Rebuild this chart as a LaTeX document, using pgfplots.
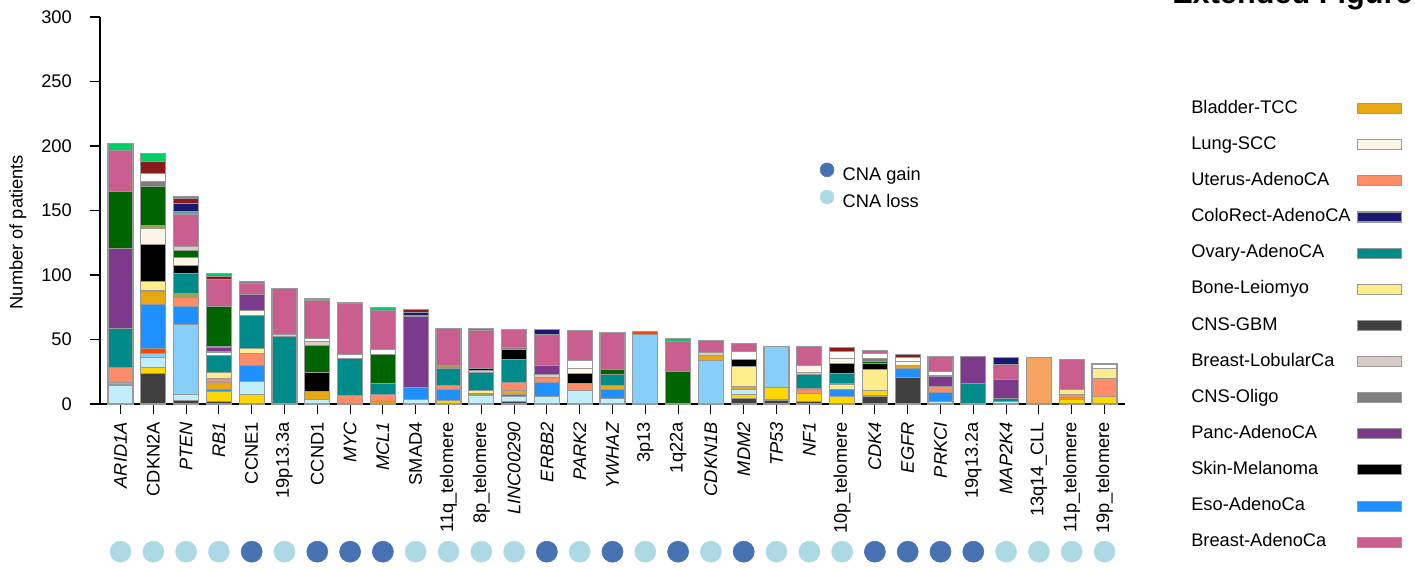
\documentclass[border=0pt]{standalone}
\usepackage{fontspec}
\setmainfont{Liberation Sans}
\usepackage{pgfplots}
\usepackage{pgfplotstable}
\pgfplotsset{compat=1.18}

\definecolor{cGBM}{HTML}{404040}
\definecolor{cGold}{HTML}{FFD700}
\definecolor{cCyan}{HTML}{C2EEFC}
\definecolor{cOligo}{HTML}{7F7F7F}
\definecolor{cSky}{HTML}{87CEFA}
\definecolor{cRed}{HTML}{FF4500}
\definecolor{cEso}{HTML}{1E90FF}
\definecolor{cBladder}{HTML}{E8A812}
\definecolor{cUterus}{HTML}{FF8C69}
\definecolor{cOlive}{HTML}{A0A052}
\definecolor{cBone}{HTML}{FFEC8B}
\definecolor{cOvary}{HTML}{008B8B}
\definecolor{cLobular}{HTML}{DBCBCB}
\definecolor{cSkin}{HTML}{000000}
\definecolor{cLung}{HTML}{FDF5E6}
\definecolor{cPanc}{HTML}{7D3A8C}
\definecolor{cDkGreen}{HTML}{006400}
\definecolor{cBreast}{HTML}{CA5E8E}
\definecolor{cCadet}{HTML}{5F9EA0}
\definecolor{cColo}{HTML}{191970}
\definecolor{cDkRed}{HTML}{8B1A1A}
\definecolor{cBrGreen}{HTML}{00CD66}
\definecolor{cSandy}{HTML}{F4A460}
\definecolor{cGain}{HTML}{4672B4}
\definecolor{cLoss}{HTML}{ADD8E6}

\newcommand{\fs}{\fontsize{13.7}{15.5}\selectfont}

% one column per stacking layer, bottom to top
\pgfplotstableread{
x  G    Y   C    A1  S    R  E    B    U    O1  L    T    Q1  K    M   O2  W1 P    D    A3  Q2  W2  H    A4  T2  N   X   Z   F
0  0    0   14   1.3 0    0  0    1.5  11.6 0   0    30   0   0    0   0   0  62   44   0   0   0   32   0   0   0   0   5.7 0
1  23.7 4.6 7.7  0   3    4  34   10.6 0    0   7.2  0    0   29   12  2.8 0  0    29.7 4.4 0   5.7 0    0   0   0   9.8 5.7 0
2  2.4  0   5    0   54   0  14.4 0    7    2.6 0    15.5 0   6.7  6.2 0   0  0    5.2  0   3   0   25.3 0   1.8 6   3.9 2   0
3  1.8  7.7 0    0   0    0  2    5.2  3    0   4.6  13   0   0    0   0   3  3.9  31.7 0   0   0   20.6 0   0   0   2.6 2.3 0
4  0    7.5 10.3 0   0    0  11.9 0    9.5  0   3.9  25.3 0   0    3.9 0   0  12.6 0    0   0   0   8.5  1.3 0   0   0   0   0
5  0    0   0    0   0    0  0    0    0    0   0    52   0   0    0   0   0  0    0    0   2   0   35.3 0   0   0   0   0   0
6  0    0   3.6  0   0    0  0    6    0    0   0    0    0   14.7 0   0   0  0    21   0   3   2.6 29.7 1.3 0   0   0   0   0
7  0    0   0    0   0    0  0    0    6.5  0   0    29   0   0    0   0   0  0    0    0   0   3   39.5 0.5 0   0   0   0   0
8  0    0   0    0   0    0  0    1.8  5.7  0   0    8.5  0   0    0   0   0  0    22.5 0   0   4.1 30.2 0   0   0   0   2   0
9  0    0   3.6  0   0    0  9.3  0    0    0   0    0    0   0    0   0   0  54.7 0    0   0   0   0    1   0   2.3 2.6 0   0
10 0    2.6 0    0   0    0  9    0    3    0   0    12.6 0   0    0   2.6 0  0    0    0   0   0   28.6 0   0   0   0   0   0
11 0    0   6.5  0   0    0  0    0    0    1.3 2.6  14.2 1.3 1.3  0   0   0  0    0    0   0   0   29.7 1.8 0   0   0   0   0
12 1.8  0   3.9  0   0    2  0    3    5.9  0   0    18   0   7.7  0   0   0  0    0    1.8 0   0   13.4 0   0   0   0   0   0
13 0    0   5.7  0   0    0  11.1 0    3.9  0   0    0    2.3 0    0   0   0  6.7  0    0   0   0   24.3 0   0   3.9 0   0   0
14 0    0   10.8 0   0    0  0    0    5.2  0   0    0    0   7.7  3.9 0   0  0    0    0   0   5.9 23.5 0   0   0   0   0   0
15 0    0   4.4  0   0    0  7.2  3    0    0   0    8.3  0   0    0   0   0  0    3.9  0   0   0   28.9 0   0   0   0   0   0
16 0    0   0    0   54   2  0    0    0    0   0    0    0   0    0   0   0  0    0    0   0   0   0    0   0   0   0   0   0
17 0    0   0    0   0    0  0    0    0    0   0    0    0   0    0   0   0  0    25   0   0   0   23.7 0   0   0   0   2   0
18 0    0   0    0   34   0  0    3.6  0    0   0    0    0   0    0   0   0  0    0    0   2.3 0   9    0   0   0   0   0   0
19 4.4  2.8 4.4  0   0    0  0    2    0    0   15.2 0    0   5.7  0   0   0  0    0    0   0   6.4 5.7  0   0   0   0   0   0
20 3.1  9.8 0    0   31.5 0  0    0    0    0   0    0    0   0    0   0   0  0    0    0   0   0   0    0   0   0   0   0   0
21 1.8  6.5 0    0   0    0  0    0    2.6  0   1.3  10.8 1.3 0    5.9 0   0  0    0    0   0   0   14.7 0   0   0   0   0   0
22 0    5.7 0    0   0    0  5.7  0    0    0   4.1  8.3  0   7.7  3.9 0   0  0    0    0   0   5.2 0    0   0   0   3.1 0   0
23 6.2  4.1 0    0   0    0  0    0    0    0   16.5 0    0   4.6  0   0   0  0    1.8  2   0   3.9 2.6  0   0   0   0   0   0
24 20.6 0   0    0   0    0  7    2.6  0    0   0    0    0   0    3.1 0   0  0    0    0   0   2.8 0    0   0   0   2.6 0   0
25 0    0   1.8  0   0    0  7    0    4.6  0   0    0    0   0    0   0   0  8.3  0    0   0   3.4 11.6 0   0   0   0   0   0
26 0    0   0    0   0    0  0    0    0    0   0    16   0   0    0   0   0  20.6 0    0   0   0   0    0   0   0   0   0   0
27 0    0   2.3  0   0    0  0    0    0    0   0    2    0   0    0   0   0  14.7 0    0   0   0   11.6 0   0   5.2 0   0   0
28 0    0   0    0   0    0  0    0    0    0   0    0    0   0    0   0   0  0    0    0   0   0   0    0   0   0   0   0   35.9
29 0    3.6 0    0   0    0  0    1.5  2.6  0   3.9  0    0   0    0   0   0  0    0    0   0   0   23.2 0   0   0   0   0   0
30 0    5.7 0    0   0    0  0    0    14.2 0   7.7  0    0   0    0   0   0  0    0    0   0   3.4 0    0   0   0   0   0   0
}\bars

\tikzset{seg/.style={draw=gray!80, line width=0.8pt}}
\newcommand{\layer}[2]{\addplot[seg, fill=#2, forget plot] table[x=x, y=#1] {\bars};}

\begin{document}
\begin{tikzpicture}
\useasboundingbox (0,0) rectangle (1061.25pt,426.75pt);

\begin{axis}[
    at={(75pt,123.75pt)}, anchor=south west,
    scale only axis, width=768.75pt, height=290.25pt,
    xmin=-0.625, xmax=30.625, ymin=0, ymax=300,
    axis x line*=bottom, axis y line*=left,
    axis line style={line width=0.9pt},
    ybar stacked, bar width=18.75pt,
    tick align=outside, major tick length=7.5pt,
    tick style={black, line width=0.8pt},
    ytick={0,50,...,300},
    xtick={0,...,30},
    xticklabels={\textit{ARID1A}, CDKN2A, \textit{PTEN}, \textit{RB1}, CCNE1,
        19p13.3a, CCND1, \textit{MYC}, \textit{MCL1}, SMAD4, 11q\_telomere,
        8p\_telomere, \textit{LINC00290}, \textit{ERBB2}, \textit{PARK2},
        \textit{YWHAZ}, 3p13, 1q22a, \textit{CDKN1B}, \textit{MDM2}, \textit{TP53},
        \textit{NF1}, 10p\_telomere, \textit{CDK4}, \textit{EGFR}, \textit{PRKCI},
        19q13.2a, \textit{MAP2K4}, 13q14\_CLL, 11p\_telomere, 19p\_telomere},
    /pgf/number format/assume math mode=true,
    tick label style={font=\fs},
    xticklabel style={rotate=90, anchor=east, inner xsep=6pt, inner ysep=0pt},
    yticklabel style={inner sep=0pt, xshift=-13.5pt},
    ylabel={Number of patients},
    ylabel style={font=\fs, at={(axis description cs:-0.08,0.444)}, anchor=center},
    legend plot pos=right,
    legend cell align=left,
    legend image code/.code={\draw[#1] (0pt,-3.5pt) rectangle (33pt,4pt);},
    legend style={at={(axis description cs:1.0605,0.7933)}, anchor=north west,
        draw=none, fill=none, font=\fs, row sep=13.6pt, column sep=4.6pt,
        nodes={inner sep=0pt, text height=10pt, text depth=3.5pt}},
]
\layer{G}{cGBM}
\layer{Y}{cGold}
\layer{C}{cCyan}
\layer{A1}{cOligo}
\layer{S}{cSky}
\layer{R}{cRed}
\layer{E}{cEso}
\layer{B}{cBladder}
\layer{U}{cUterus}
\layer{O1}{cOlive}
\layer{L}{cBone}
\layer{T}{cOvary}
\layer{Q1}{cLobular}
\layer{K}{cSkin}
\layer{M}{cLung}
\layer{O2}{cOlive}
\layer{W1}{white}
\layer{P}{cPanc}
\layer{D}{cDkGreen}
\layer{A3}{cOligo}
\layer{Q2}{cLobular}
\layer{W2}{white}
\layer{H}{cBreast}
\layer{A4}{cOligo}
\layer{T2}{cCadet}
\layer{N}{cColo}
\layer{X}{cDkRed}
\layer{Z}{cBrGreen}
\layer{F}{cSandy}

\addlegendimage{seg, fill=cBladder}
\addlegendentry{Bladder-TCC}
\addlegendimage{seg, fill=cLung}
\addlegendentry{Lung-SCC}
\addlegendimage{seg, fill=cUterus}
\addlegendentry{Uterus-AdenoCA}
\addlegendimage{seg, fill=cColo}
\addlegendentry{ColoRect-AdenoCA}
\addlegendimage{seg, fill=cOvary}
\addlegendentry{Ovary-AdenoCA}
\addlegendimage{seg, fill=cBone}
\addlegendentry{Bone-Leiomyo}
\addlegendimage{seg, fill=cGBM}
\addlegendentry{CNS-GBM}
\addlegendimage{seg, fill=cLobular}
\addlegendentry{Breast-LobularCa}
\addlegendimage{seg, fill=cOligo}
\addlegendentry{CNS-Oligo}
\addlegendimage{seg, fill=cPanc}
\addlegendentry{Panc-AdenoCA}
\addlegendimage{seg, fill=cSkin}
\addlegendentry{Skin-Melanoma}
\addlegendimage{seg, fill=cEso}
\addlegendentry{Eso-AdenoCa}
\addlegendimage{seg, fill=cBreast}
\addlegendentry{Breast-AdenoCa}
\end{axis}

% gain / loss markers under the labels
\begin{axis}[
    at={(75pt,123.75pt)}, anchor=south west,
    scale only axis, width=768.75pt, height=290.25pt,
    xmin=-0.625, xmax=30.625, ymin=0, ymax=300,
    hide axis, clip=false,
    legend cell align=left,
    legend image code/.code={\path (0cm,0cm) (0.6cm,0cm);
        \draw[#1, mark size=5.2pt] plot coordinates {(0.3cm,4.7pt)};},
    legend style={at={(axis description cs:0.6938,0.6305)}, anchor=north west,
        draw=none, fill=none, font=\fs, row sep=3.75pt, column sep=3pt,
        nodes={inner sep=0pt, text height=10pt, text depth=3.5pt}},
]
\addplot[only marks, mark=*, mark size=7.9pt, cGain, mark options={draw=none, fill=cGain}]
    coordinates {(4,-114.5) (6,-114.5) (7,-114.5) (8,-114.5) (13,-114.5) (15,-114.5)
                 (17,-114.5) (19,-114.5) (23,-114.5) (24,-114.5) (25,-114.5) (26,-114.5)};
\addlegendentry{CNA gain}
\addplot[only marks, mark=*, mark size=7.9pt, cLoss, mark options={draw=none, fill=cLoss}]
    coordinates {(0,-114.5) (1,-114.5) (2,-114.5) (3,-114.5) (5,-114.5) (9,-114.5)
                 (10,-114.5) (11,-114.5) (12,-114.5) (14,-114.5) (16,-114.5) (18,-114.5)
                 (20,-114.5) (21,-114.5) (22,-114.5) (27,-114.5) (28,-114.5) (29,-114.5)
                 (30,-114.5)};
\addlegendentry{CNA loss}
\end{axis}

\node[anchor=base west, inner sep=0pt, font=\fontsize{23}{27}\selectfont\bfseries]
    at (879pt,424.1pt) {Extended Figure};
\end{tikzpicture}
\end{document}
